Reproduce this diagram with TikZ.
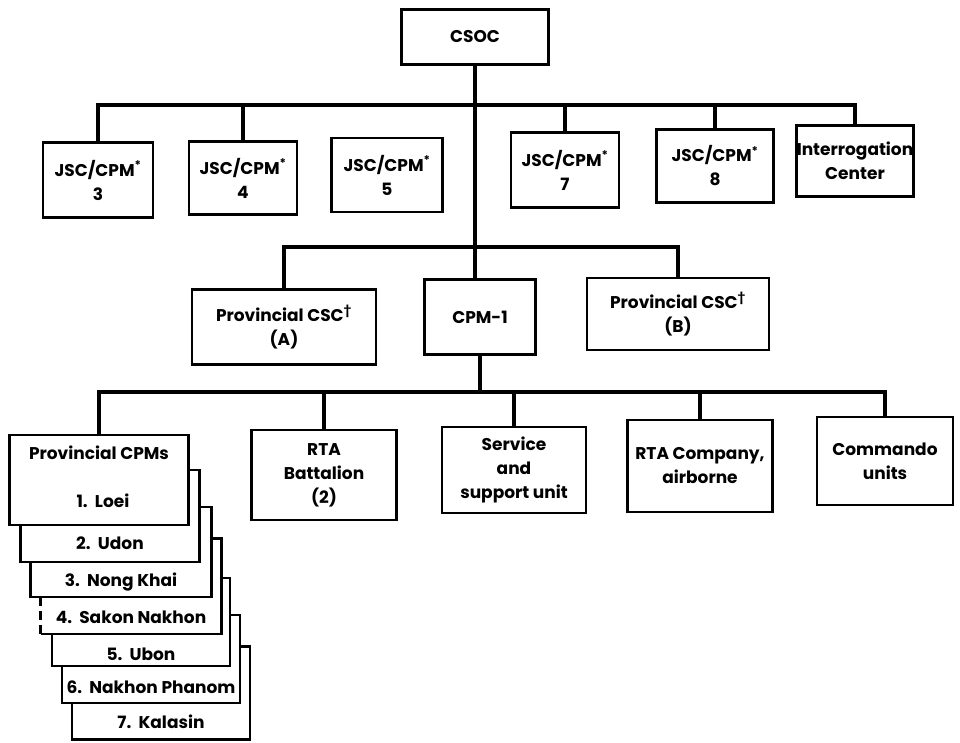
\documentclass[tikz,border=0pt]{standalone}
\usepackage{fontspec}
\setmainfont{Poppins}
\begin{document}
\begin{tikzpicture}[x=1pt,y=-1pt,
  box/.style={draw, line width=2.6pt, fill=white, rectangle, inner sep=0pt,
    align=center, font=\bfseries\fontsize{17}{24}\selectfont},
  lbl/.style={inner sep=0pt, font=\bfseries\fontsize{17}{24}\selectfont},
  conn/.style={line width=4pt, line join=miter, line cap=rect},
  boxline/.style={line width=2.6pt, line join=miter}]
\useasboundingbox (0,0) rectangle (960,742);

% headquarters
\node[box, minimum width=147pt, minimum height=55pt] (csoc) at (475,37) {CSOC};

% first tier
\node[box, minimum width=110pt, minimum height=75pt] (j3) at (98,180) {JSC/CPM\textsuperscript{*}\\3};
\node[box, minimum width=108pt, minimum height=73pt] (j4) at (243,178) {JSC/CPM\textsuperscript{*}\\4};
\node[box, minimum width=111pt, minimum height=74pt] (j5) at (387,175) {JSC/CPM\textsuperscript{*}\\5};
\node[box, minimum width=108pt, minimum height=75pt] (j7) at (565,170) {JSC/CPM\textsuperscript{*}\\7};
\node[box, minimum width=117pt, minimum height=73pt] (j8) at (715,166) {JSC/CPM\textsuperscript{*}\\8};
\node[box, minimum width=117pt, minimum height=71pt] (ic) at (855,161) {Interrogation\\Center};

% second tier
\node[box, minimum width=184pt, minimum height=75pt] (pa) at (284,327) {Provincial CSC\textsuperscript{†}\\(A)};
\node[box, minimum width=111pt, minimum height=75pt] (cpm) at (480,317) {CPM-1};
\node[box, minimum width=182pt, minimum height=72pt] (pb) at (678,314) {Provincial CSC\textsuperscript{†}\\(B)};

% third tier
\node[box, minimum width=145pt, minimum height=90pt] (rb) at (324,475) {RTA\\Battalion\\(2)};
\node[box, minimum width=144pt, minimum height=86pt] (su) at (514,470) {Service\\and\\support unit};
\node[box, minimum width=145pt, minimum height=92pt] (rc) at (700,466) {RTA Company,\\airborne};
\node[box, minimum width=136pt, minimum height=88pt] (cu) at (885,461) {Commando\\units};

% stack of provincial CPM cards, back to front
\node[box, minimum width=178pt, minimum height=93pt] (s7) at (161,693) {};
\node[lbl] (t7) at (161,722) {7.\ \ Kalasin};
\node[box, minimum width=178pt, minimum height=88pt] (s6) at (151,659) {};
\node[lbl] (t6) at (151,687) {6.\ \ Nakhon Phanom};
\node[box, minimum width=178pt, minimum height=88pt] (s5) at (141,622) {};
\node[lbl] (t5) at (141,654) {5.\ \ Ubon};
\node[box, draw=none, minimum width=178pt, minimum height=93pt] (s4) at (131,586) {};
\draw[boxline] (s4.north west) -- (s4.north east) -- (s4.south east) -- (s4.south west);
\draw[boxline, dash pattern=on 9pt off 5pt] (s4.south west) -- (s4.north west);
\node[lbl] (t4) at (131,617) {4.\ \ Sakon Nakhon};
\node[box, minimum width=181pt, minimum height=90pt] (s3) at (121,552) {};
\node[lbl] (t3) at (121,582) {3.\ \ Nong Khai};
\node[box, minimum width=179pt, minimum height=92pt] (s2) at (110,516) {};
\node[lbl] (t2) at (110,543) {2.\ \ Udon};
\node[box, minimum width=179pt, minimum height=90pt] (pc) at (99,480) {};
\node[lbl] (t1a) at (99,453) {Provincial CPMs};
\node[lbl] (t1b) at (103,501) {1.\ \ Loei};

% bus levels
\coordinate (y1) at (0,105);
\coordinate (y2) at (0,247);
\coordinate (y3) at (0,392);

% connectors
\draw[conn] (j3.north) |- (ic.north |- y1) -- (ic.north);
\draw[conn] (j4.north) -- (j4.north |- y1);
\draw[conn] (j7.north) -- (j7.north |- y1);
\draw[conn] (j8.north) -- (j8.north |- y1);
\draw[conn] (csoc.south) -- (csoc.south |- cpm.north);
\draw[conn] (pa.north) |- (pb.north |- y2) -- (pb.north);
\draw[conn] (cpm.south) -- (cpm.south |- y3);
\draw[conn] (pc.north) |- (cu.north |- y3) -- (cu.north);
\draw[conn] (rb.north) -- (rb.north |- y3);
\draw[conn] (su.north) -- (su.north |- y3);
\draw[conn] (rc.north) -- (rc.north |- y3);
\end{tikzpicture}
\end{document}
